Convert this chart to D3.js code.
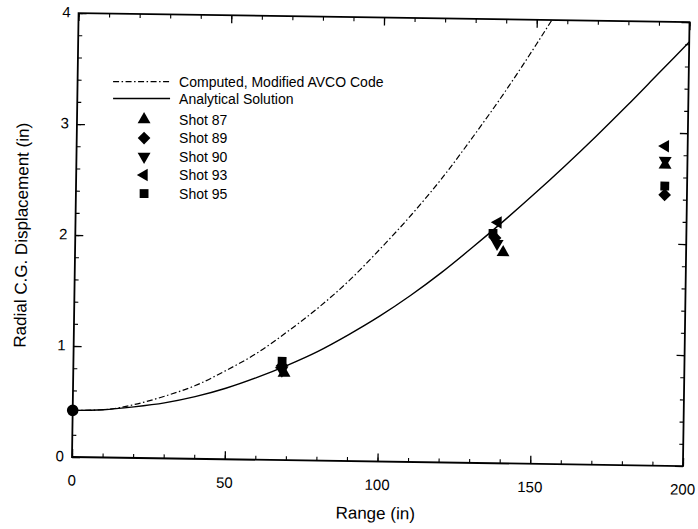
<!DOCTYPE html>
<html>
<head>
<meta charset="utf-8">
<script src="https://cdn.jsdelivr.net/npm/d3@7"></script>
<style>
  body { margin: 0; background: #fff; }
  svg { font-family: "Liberation Sans", Arial, Helvetica, sans-serif; }
  .tick-label { font-size: 15px; }
  .axis-title { font-size: 17px; }
  .legend text { font-size: 14px; }
</style>
</head>
<body>
<div id="vis"></div>
<script>
// curves (range in, displacement in)
const analyticX = [0, 10, 20, 30, 40, 50, 60, 70, 80, 90, 100, 110, 120, 130, 140, 150, 160, 170, 180, 190, 200]
const analyticY = [0.42, 0.43, 0.46, 0.50, 0.56, 0.64, 0.74, 0.855, 0.985, 1.14, 1.31, 1.50, 1.71, 1.94, 2.18, 2.43, 2.69, 2.96, 3.24, 3.53, 3.82]
const computedX = [0, 10, 20, 30, 40, 50, 60, 70, 80, 90, 100, 110, 120, 130, 140, 150, 160]
const computedY = [0.42, 0.43, 0.48, 0.56, 0.66, 0.80, 0.96, 1.16, 1.38, 1.63, 1.92, 2.23, 2.57, 2.95, 3.35, 3.78, 4.23]

// measured shots
const shotNames = ['Shot 87', 'Shot 89', 'Shot 90', 'Shot 93', 'Shot 95']
const shotX = [
    [69.0, 140.1, 192.7],   // 87
    [68.3, 137.4, 192.7],   // 89
    [68.3, 138.1, 192.7],   // 90
    [68.3, 138.3, 192.7],   // 93
    [68.3, 136.7, 192.7]    // 95
]
const shotY = [
    [0.785, 1.90, 2.71],
    [0.85, 2.03, 2.44],
    [0.81, 1.98, 2.75],
    [0.83, 2.17, 2.88],
    [0.89, 2.07, 2.52]
]
const startPoint = [0, 0.42]

const xTicks = [0, 50, 100, 150, 200]
const yTicks = [0, 1, 2, 3, 4]

const margin = {top: 13, right: 15, bottom: 72, left: 72};
const width = 698 - margin.left - margin.right;
const height = 529 - margin.top - margin.bottom;

// the scanned figure sits slightly turned, so the plot is tilted a little
const svg = d3.select('#vis')
    .append('svg')
    .attr('width', 698)
    .attr('height', 529)
    .append('g')
    .attr('transform', `translate(${margin.left},${margin.top}) rotate(0.85,0,${height})`);

let xScale = d3.scaleLinear().domain([0, 200]).range([0, width]);
let yScale = d3.scaleLinear().domain([0, 4]).range([height, 0]);

// inward ticks on all four sides
function innerAxis(axisFn, scale, major, minor, transform) {
    svg.append('g')
        .attr('transform', transform)
        .call(axisFn(scale).tickValues(minor).tickSize(-4).tickFormat(''))
        .call(g => g.select('.domain').remove())
        .selectAll('line').attr('stroke', '#000').attr('stroke-width', 1.1);
    svg.append('g')
        .attr('transform', transform)
        .call(axisFn(scale).tickValues(major).tickSize(-8).tickFormat(''))
        .call(g => g.select('.domain').remove())
        .selectAll('line').attr('stroke', '#000').attr('stroke-width', 1.3);
}

const xMinor = d3.range(0, 201, 10)
const yMinor = d3.range(0, 4.01, 0.2)
innerAxis(d3.axisBottom, xScale, xTicks, xMinor, `translate(0,${height})`)
innerAxis(d3.axisTop, xScale, xTicks, xMinor, `translate(0,0)`)
innerAxis(d3.axisLeft, yScale, yTicks, yMinor, `translate(0,0)`)
innerAxis(d3.axisRight, yScale, yTicks, yMinor, `translate(${width},0)`)

svg.append('rect')
    .attr('width', width)
    .attr('height', height)
    .attr('fill', 'none')
    .attr('stroke', '#000')
    .attr('stroke-width', 1.8);

// tick labels
svg.selectAll('.xlab')
    .data(xTicks)
    .enter()
    .append('text')
    .attr('class', 'tick-label')
    .attr('x', d => xScale(d))
    .attr('y', height + 28.5)
    .attr('text-anchor', 'middle')
    .text(d => d);

svg.selectAll('.ylab')
    .data(yTicks)
    .enter()
    .append('text')
    .attr('class', 'tick-label')
    .attr('x', -8)
    .attr('y', d => yScale(d) + 4.5)
    .attr('text-anchor', 'end')
    .text(d => d);

svg.append('text')
    .attr('class', 'axis-title')
    .attr('x', 304)
    .attr('y', height + 57.5)
    .attr('text-anchor', 'middle')
    .text('Range (in)');

svg.append('text')
    .attr('class', 'axis-title')
    .attr('transform', 'rotate(-90)')
    .attr('x', -223)
    .attr('y', -48)
    .attr('text-anchor', 'middle')
    .text('Radial C.G. Displacement (in)');

// curves
const line = d3.line()
    .x(d => xScale(d[0]))
    .y(d => yScale(d[1]))
    .curve(d3.curveMonotoneX);

svg.append('clipPath').attr('id', 'plotclip')
    .append('rect').attr('width', width).attr('height', height);

svg.append('path')
    .datum(d3.zip(computedX, computedY))
    .attr('d', line)
    .attr('fill', 'none')
    .attr('stroke', '#000')
    .attr('stroke-width', 1.2)
    .attr('stroke-dasharray', '6,2.5,1.5,2.5')
    .attr('clip-path', 'url(#plotclip)');

svg.append('path')
    .datum(d3.zip(analyticX, analyticY))
    .attr('d', line)
    .attr('fill', 'none')
    .attr('stroke', '#000')
    .attr('stroke-width', 1.4)
    .attr('clip-path', 'url(#plotclip)');

// markers
const symbols = [
    {type: d3.symbolTriangle, rot: 0, size: 72},
    {type: d3.symbolSquare, rot: 45, size: 80},
    {type: d3.symbolTriangle, rot: 180, size: 72},
    {type: d3.symbolTriangle, rot: -90, size: 68},
    {type: d3.symbolSquare, rot: 0, size: 78}
]

shotNames.forEach((name, i) => {
    const pts = d3.zip(shotX[i], shotY[i])
    svg.selectAll('.shot' + i)
        .data(pts)
        .enter()
        .append('path')
        .attr('d', d3.symbol().type(symbols[i].type).size(symbols[i].size))
        .attr('transform', d => `translate(${xScale(d[0])},${yScale(d[1])}) rotate(${symbols[i].rot})`)
        .attr('fill', '#000');
})

svg.append('circle')
    .attr('cx', xScale(startPoint[0]))
    .attr('cy', yScale(startPoint[1]))
    .attr('r', 5.8)
    .attr('fill', '#000');

// legend (kept level so the rows don't crowd each other)
const legend = svg.append('g').attr('class', 'legend').attr('transform', 'translate(35.5,68) rotate(-0.85)')

legend.append('line')
    .attr('x1', 0).attr('x2', 57).attr('y1', 0).attr('y2', 0)
    .attr('stroke', '#000').attr('stroke-width', 1.2)
    .attr('stroke-dasharray', '6,2.5,1.5,2.5');
legend.append('text').attr('x', 66).attr('y', 5).text('Computed, Modified AVCO Code');

legend.append('line')
    .attr('x1', 0).attr('x2', 57).attr('y1', 17).attr('y2', 17)
    .attr('stroke', '#000').attr('stroke-width', 1.4);
legend.append('text').attr('x', 66).attr('y', 22).text('Analytical Solution');

shotNames.forEach((name, i) => {
    const yy = 38 + i * 18.5
    legend.append('path')
        .attr('d', d3.symbol().type(symbols[i].type).size(symbols[i].size))
        .attr('transform', `translate(31,${yy}) rotate(${symbols[i].rot})`)
        .attr('fill', '#000');
    legend.append('text').attr('x', 66).attr('y', yy + 5).text(name);
})
</script>
</body>
</html>
